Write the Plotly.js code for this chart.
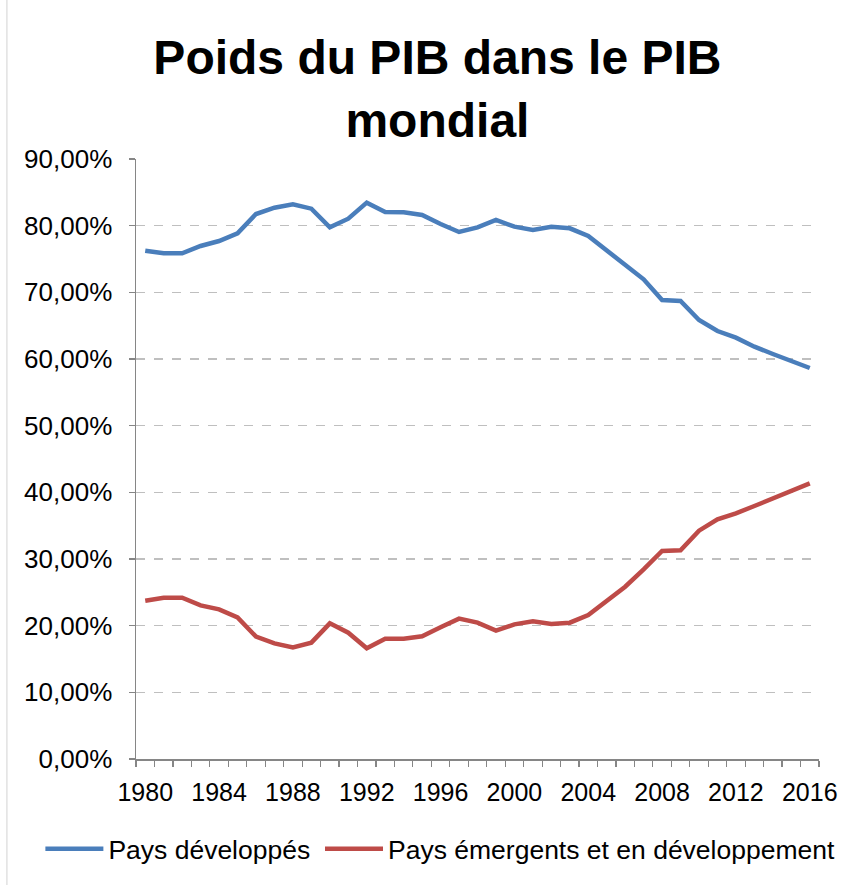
<!DOCTYPE html>
<html>
<head>
<meta charset="utf-8">
<script src="https://cdn.plot.ly/plotly-3.0.1.min.js"></script>
<style>
  html, body { margin: 0; padding: 0; background: #ffffff; }
  #chart { width: 856px; height: 893px; }
</style>
</head>
<body>
<div id="chart"></div>
<script>
var years = [1980,1981,1982,1983,1984,1985,1986,1987,1988,1989,1990,1991,1992,1993,1994,1995,1996,1997,1998,1999,2000,2001,2002,2003,2004,2005,2006,2007,2008,2009,2010,2011,2012,2013,2014,2015,2016];
var paysDeveloppes = [76.25,75.85,75.85,76.95,77.7,78.85,81.75,82.7,83.2,82.55,79.75,81.05,83.45,82.05,82.0,81.6,80.25,79.05,79.75,80.85,79.85,79.35,79.85,79.6,78.45,76.35,74.25,71.95,68.85,68.7,65.85,64.2,63.2,61.85,60.75,59.7,58.65];
var paysEmergents = [23.75,24.2,24.2,23.05,22.45,21.25,18.35,17.35,16.75,17.45,20.35,18.95,16.6,18.05,18.05,18.4,19.75,21.05,20.45,19.25,20.2,20.65,20.25,20.45,21.6,23.7,25.85,28.45,31.2,31.3,34.25,35.95,36.85,37.95,39.1,40.2,41.35];
var xTickVals = [1980,1984,1988,1992,1996,2000,2004,2008,2012,2016];
var xTickText = ["1980","1984","1988","1992","1996","2000","2004","2008","2012","2016"];
var yTickVals = [0,10,20,30,40,50,60,70,80,90];
var yTickText = ["0,00%","10,00%","20,00%","30,00%","40,00%","50,00%","60,00%","70,00%","80,00%","90,00%"];
var seriesNames = ["Pays développés", "Pays émergents et en développement"];

var font = "Liberation Sans, Arial, sans-serif";

var traces = [
  {x: years, y: paysDeveloppes, name: seriesNames[0], type: "scatter", mode: "lines",
   line: {color: "#4A7EBB", width: 4.5}, legend: "legend"},
  {x: years, y: paysEmergents, name: seriesNames[1], type: "scatter", mode: "lines",
   line: {color: "#BE4B48", width: 4.5}, legend: "legend2"}
];

var legendBase = {
  orientation: "h",
  xanchor: "left",
  y: -0.15, yanchor: "middle",
  font: {family: font, size: 26.5, color: "#000000"},
  itemwidth: 58,
  bgcolor: "rgba(0,0,0,0)"
};

var layout = {
  width: 856, height: 893,
  paper_bgcolor: "#ffffff", plot_bgcolor: "#ffffff",
  margin: {l: 136, r: 37, t: 159, b: 134},
  font: {family: font, color: "#000000"},
  title: {
    text: "<b>Poids du PIB dans le PIB<br>mondial</b>",
    font: {family: font, size: 48, color: "#000000"},
    x: 0.511, xanchor: "center",
    y: 0.917, yanchor: "middle"
  },
  xaxis: {
    range: [1979.5, 2016.5],
    tickvals: xTickVals, ticktext: xTickText,
    ticks: "", showgrid: false, zeroline: false,
    showline: true, linecolor: "#868686", linewidth: 1.5,
    tickfont: {family: font, size: 25, color: "#000000"},
    ticklabelstandoff: 10,
    minor: {ticks: "outside", tick0: 1979.5, dtick: 1, ticklen: 6, tickcolor: "#868686", tickwidth: 1.2, showgrid: false}
  },
  yaxis: {
    range: [0, 90],
    tickvals: yTickVals, ticktext: yTickText,
    ticks: "outside", ticklen: 6, tickcolor: "#868686", tickwidth: 1.2,
    showline: true, linecolor: "#868686", linewidth: 1.5,
    showgrid: true, gridcolor: "#BFBFBF", gridwidth: 1.3, griddash: "dash",
    zeroline: false,
    tickfont: {family: font, size: 26, color: "#000000"},
    ticklabelstandoff: 11
  },
  shapes: [
    {type: "line", xref: "paper", yref: "paper", x0: -0.189, x1: -0.189, y0: -0.21, y1: 1.27,
     line: {color: "#D9D9D9", width: 1.2}}
  ],
  showlegend: true,
  legend: Object.assign({}, legendBase, {x: -0.14}),
  legend2: Object.assign({}, legendBase, {x: 0.2694})
};

Plotly.newPlot("chart", traces, layout, {displayModeBar: false, staticPlot: true});
</script>
</body>
</html>
